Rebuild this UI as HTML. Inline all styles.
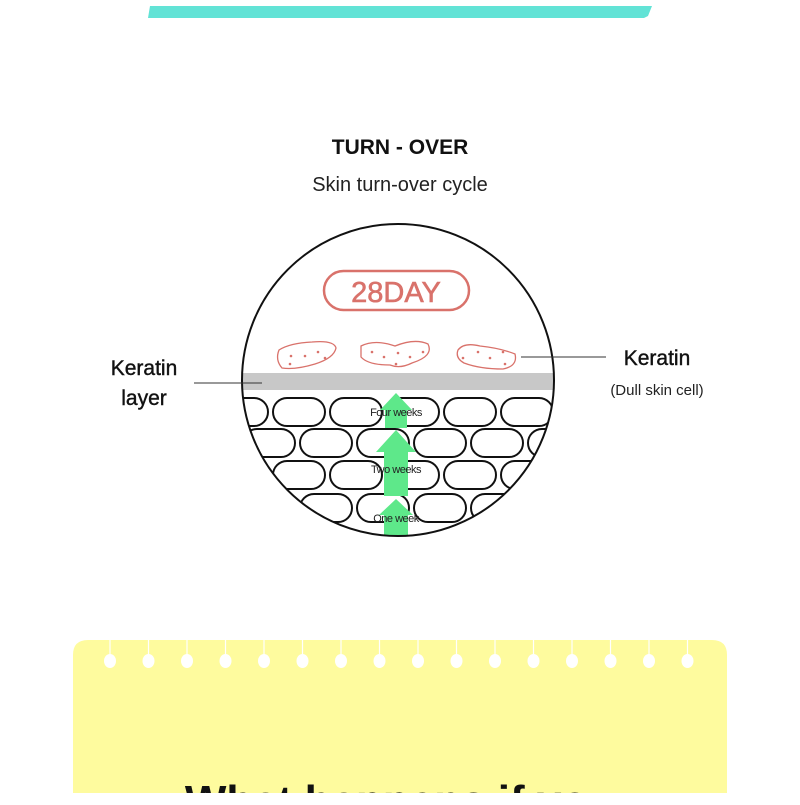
<!DOCTYPE html>
<html><head><style>
body{margin:0;width:800px;height:800px;background:#fff;overflow:hidden;font-family:"Liberation Sans",sans-serif}
</style></head><body>
<svg width="800" height="800" viewBox="0 0 800 800" xmlns="http://www.w3.org/2000/svg">
<defs>
<clipPath id="c"><circle cx="398" cy="380" r="156"/></clipPath>
</defs>
<polygon points="150,6 652,6 648,16 644,18 148,18" fill="#62e3d6"/>
<text x="400" y="154" text-anchor="middle" font-size="21" font-weight="bold" fill="#111">TURN - OVER</text>
<text x="400" y="191" text-anchor="middle" font-size="20" fill="#222">Skin turn-over cycle</text>
<g clip-path="url(#c)">
<rect x="230" y="373" width="340" height="17" fill="#c8c8c8"/>
<g fill="#fff" stroke="#111" stroke-width="2">
<rect x="216" y="398" width="52" height="28" rx="14"/><rect x="273" y="398" width="52" height="28" rx="14"/><rect x="330" y="398" width="52" height="28" rx="14"/><rect x="387" y="398" width="52" height="28" rx="14"/><rect x="444" y="398" width="52" height="28" rx="14"/><rect x="501" y="398" width="52" height="28" rx="14"/>
<rect x="243" y="429" width="52" height="28" rx="14"/><rect x="300" y="429" width="52" height="28" rx="14"/><rect x="357" y="429" width="52" height="28" rx="14"/><rect x="414" y="429" width="52" height="28" rx="14"/><rect x="471" y="429" width="52" height="28" rx="14"/><rect x="528" y="429" width="52" height="28" rx="14"/>
<rect x="216" y="461" width="52" height="28" rx="14"/><rect x="273" y="461" width="52" height="28" rx="14"/><rect x="330" y="461" width="52" height="28" rx="14"/><rect x="387" y="461" width="52" height="28" rx="14"/><rect x="444" y="461" width="52" height="28" rx="14"/><rect x="501" y="461" width="52" height="28" rx="14"/>
<rect x="243" y="494" width="52" height="28" rx="14"/><rect x="300" y="494" width="52" height="28" rx="14"/><rect x="357" y="494" width="52" height="28" rx="14"/><rect x="414" y="494" width="52" height="28" rx="14"/><rect x="471" y="494" width="52" height="28" rx="14"/><rect x="528" y="494" width="52" height="28" rx="14"/>
</g>
<g fill="#5ee88a">
<polygon points="396,393 412,410 407,410 407,428 385,428 385,410 380,410"/>
<polygon points="396,430 416,452 408,452 408,496 384,496 384,452 376,452"/>
<polygon points="396,499 413,515 408,515 408,540 384,540 384,515 379,515"/>
</g>
</g>
<circle cx="398" cy="380" r="156" fill="none" stroke="#111" stroke-width="2"/>
<g font-size="11" fill="#222" text-anchor="middle" letter-spacing="-0.5">
<text x="396" y="416">Four weeks</text><text x="396" y="473">Two weeks</text><text x="396" y="522">One week</text>
</g>
<rect x="324" y="271" width="145" height="39" rx="19.5" fill="none" stroke="#d9726b" stroke-width="2.5"/>
<text x="396" y="302" text-anchor="middle" font-size="29" fill="#d9726b" stroke="#d9726b" stroke-width="0.6">28DAY</text>
<g fill="none" stroke="#d9726b" stroke-width="1.3">
<path d="M279,350 Q290,343 312,342 Q334,340 336,348 Q334,358 315,364 Q295,370 282,368 Q275,360 279,350Z"/>
<path d="M361,346 Q375,339 395,346 Q415,338 428,344 Q434,356 412,363 Q400,369 390,365 Q368,365 361,357Z"/>
<path d="M458,350 Q464,342 480,346 Q500,348 515,354 Q518,366 503,369 Q480,369 464,363 Q455,358 458,350Z"/>
</g>
<g fill="#d9726b">
<circle cx="291" cy="356" r="1.3"/><circle cx="305" cy="356" r="1.3"/><circle cx="318" cy="352" r="1.3"/><circle cx="290" cy="364" r="1.3"/><circle cx="325" cy="358" r="1.3"/>
<circle cx="372" cy="352" r="1.3"/><circle cx="384" cy="357" r="1.3"/><circle cx="398" cy="353" r="1.3"/><circle cx="410" cy="357" r="1.3"/><circle cx="423" cy="352" r="1.3"/><circle cx="396" cy="364" r="1.3"/>
<circle cx="463" cy="358" r="1.3"/><circle cx="478" cy="352" r="1.3"/><circle cx="490" cy="358" r="1.3"/><circle cx="503" cy="352" r="1.3"/><circle cx="505" cy="364" r="1.3"/>
</g>
<line x1="194" y1="383" x2="262" y2="383" stroke="#333" stroke-width="1"/>
<line x1="521" y1="357" x2="606" y2="357" stroke="#333" stroke-width="1"/>
<text x="144" y="375" text-anchor="middle" font-size="21" fill="#111" stroke="#111" stroke-width="0.4">Keratin</text>
<text x="144" y="405" text-anchor="middle" font-size="21" fill="#111" stroke="#111" stroke-width="0.4">layer</text>
<text x="657" y="365" text-anchor="middle" font-size="21" fill="#111" stroke="#111" stroke-width="0.4">Keratin</text>
<text x="657" y="395" text-anchor="middle" font-size="15" fill="#222">(Dull skin cell)</text>
<path d="M73,793 L73,655 Q73,640 88,640 L712,640 Q727,640 727,655 L727,793Z" fill="#fefb9e"/>
<g fill="#fff">
<g id="h"><ellipse cx="110" cy="661" rx="6" ry="7"/><rect x="109.4" y="640" width="1.2" height="16"/></g>
<use href="#h" x="38.5"/><use href="#h" x="77"/><use href="#h" x="115.5"/><use href="#h" x="154"/><use href="#h" x="192.5"/><use href="#h" x="231"/><use href="#h" x="269.5"/><use href="#h" x="308"/><use href="#h" x="346.5"/><use href="#h" x="385"/><use href="#h" x="423.5"/><use href="#h" x="462"/><use href="#h" x="500.5"/><use href="#h" x="539"/><use href="#h" x="577.5"/>
</g>
<text x="400" y="816" text-anchor="middle" font-size="44" font-weight="bold" fill="#111">What happens if you</text>
<rect x="0" y="793" width="800" height="7" fill="#fff"/>
</svg>
</body></html>
